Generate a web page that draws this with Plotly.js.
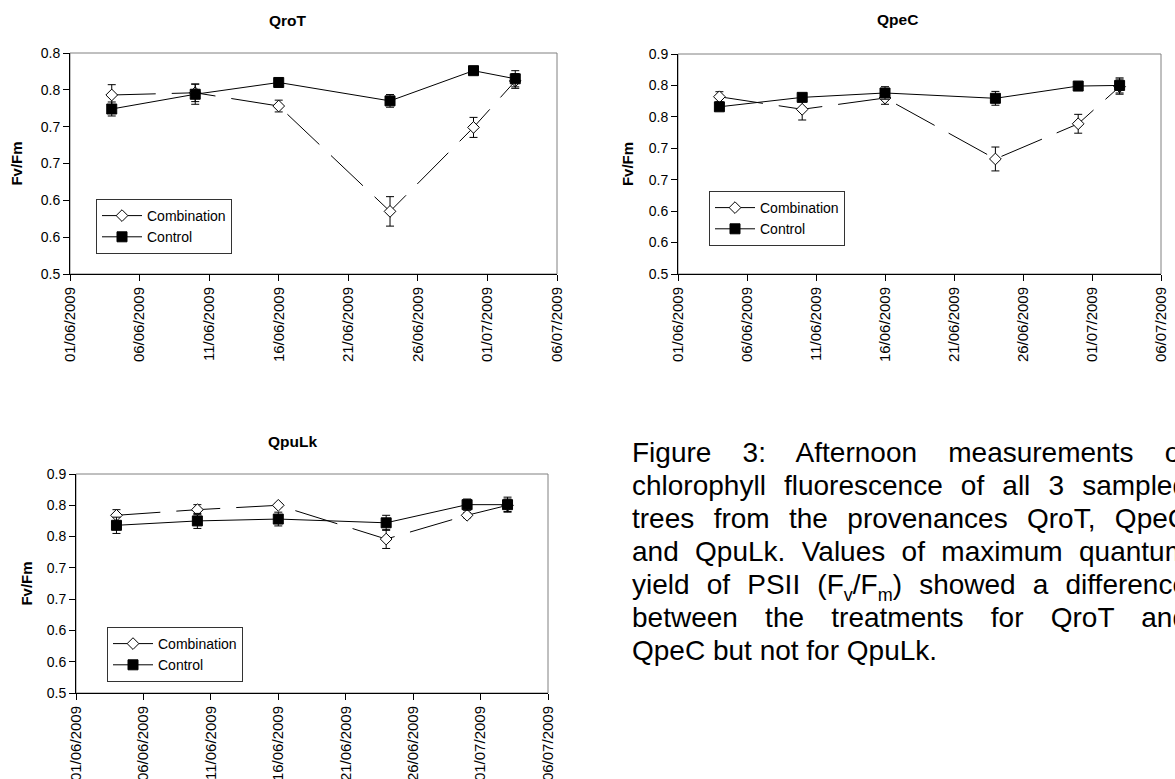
<!DOCTYPE html>
<html>
<head>
<meta charset="utf-8">
<script src="https://cdn.plot.ly/plotly-3.0.1.min.js"></script>
<style>
  html, body { margin: 0; padding: 0; width: 1175px; height: 779px; overflow: hidden; background: #fff; }
  #chart { position: absolute; left: 0; top: 0; width: 1175px; height: 779px; }
  #caption { position: absolute; left: 632px; top: 436px; width: 556px;
    font-family: "Liberation Sans", Arial, sans-serif; font-size: 28px; line-height: 33px; color: #000; }
  #caption span { display: block; white-space: nowrap; text-align: justify; text-align-last: justify; }
  #caption span.last { text-align-last: left; }
  #caption sub { font-size: 18px; line-height: 0; }
</style>
</head>
<body>
<div id="chart"></div>
<div id="caption">
  <span>Figure 3: Afternoon measurements of</span>
  <span>chlorophyll fluorescence of all 3 sampled</span>
  <span>trees from the provenances QroT, QpeC</span>
  <span>and QpuLk. Values of maximum quantum</span>
  <span>yield of PSII (F<sub>v</sub>/F<sub>m</sub>) showed a difference</span>
  <span>between the treatments for QroT and</span>
  <span class="last">QpeC but not for QpuLk.</span>
</div>
<script>
// ---- data ----
const dates = ['2009-06-04', '2009-06-10', '2009-06-16', '2009-06-24', '2009-06-30', '2009-07-03'];
const tickDates = ['2009-06-01', '2009-06-06', '2009-06-11', '2009-06-16', '2009-06-21', '2009-06-26', '2009-07-01', '2009-07-06'];
const tickDateLabels = ['01/06/2009', '06/06/2009', '11/06/2009', '16/06/2009', '21/06/2009', '26/06/2009', '01/07/2009', '06/07/2009'];

const yTicks7 = [0.5, 0.55, 0.6, 0.65, 0.7, 0.75, 0.8];
const yLabels7 = ['0.5', '0.6', '0.6', '0.7', '0.7', '0.8', '0.8'];
const yTicks8 = [0.5, 0.55, 0.6, 0.65, 0.7, 0.75, 0.8, 0.85];
const yLabels8 = ['0.5', '0.6', '0.6', '0.7', '0.7', '0.8', '0.8', '0.9'];

const seriesNames = ['Combination', 'Control'];
const panelTitles = ['QroT', 'QpeC', 'QpuLk'];

const qroT_comb = [0.743, 0.746, 0.728, 0.585, 0.699, 0.762];
const qroT_comb_err = [0.014, 0.012, 0.008, 0.020, 0.0136, 0.010];
const qroT_ctrl = [0.724, 0.744, 0.760, 0.735, 0.776, 0.765];
const qroT_ctrl_err = [0.0095, 0.0136, 0.003, 0.0086, 0.003, 0.011];

const qpeC_comb = [0.782, 0.762, 0.780, 0.683, 0.739, 0.798];
const qpeC_comb_err = [0.008, 0.017, 0.010, 0.019, 0.015, 0.012];
const qpeC_ctrl = [0.766, 0.781, 0.788, 0.7795, 0.799, 0.800];
const qpeC_ctrl_err = [0.004, 0.004, 0.010, 0.011, 0.005, 0.012];

const qpuLk_comb = [0.784, 0.793, 0.800, 0.746, 0.784, 0.800];
const qpuLk_comb_err = [0.009, 0.008, 0.003, 0.015, 0.004, 0.010];
const qpuLk_ctrl = [0.768, 0.775, 0.778, 0.772, 0.801, 0.801];
const qpuLk_ctrl_err = [0.013, 0.012, 0.011, 0.012, 0.009, 0.012];

// ---- layout helpers ----
const W = 1175, H = 779;
const FONT = '"Liberation Sans", Arial, sans-serif';
const px = v => v / W;
const py = v => 1 - v / H;

const panels = [
  { xa: 'x',  ya: 'y',  legend: 'legend',  comb: qroT_comb, combErr: qroT_comb_err, ctrl: qroT_ctrl, ctrlErr: qroT_ctrl_err,
    box: [70, 557, 53, 274], yr: [0.5, 0.8], yt: yTicks7, yl: yLabels7, standoff: 14,
    title: [288, 21], leg: [96, 199] },
  { xa: 'x2', ya: 'y2', legend: 'legend2', comb: qpeC_comb, combErr: qpeC_comb_err, ctrl: qpeC_ctrl, ctrlErr: qpeC_ctrl_err,
    box: [678, 1161, 54, 274], yr: [0.5, 0.85], yt: yTicks8, yl: yLabels8, standoff: 11,
    title: [897, 20], leg: [709, 191] },
  { xa: 'x3', ya: 'y3', legend: 'legend3', comb: qpuLk_comb, combErr: qpuLk_comb_err, ctrl: qpuLk_ctrl, ctrlErr: qpuLk_ctrl_err,
    box: [76, 548, 474, 693], yr: [0.5, 0.85], yt: yTicks8, yl: yLabels8, standoff: 10,
    title: [292, 441], leg: [107, 627] }
];

const combMarker = { symbol: 'diamond', size: 9, color: '#fff', line: { color: '#000', width: 1 } };
const ctrlMarker = { symbol: 'square', size: 10, color: '#000', line: { color: '#000', width: 1 } };

const traces = [];
const layout = {
  width: W, height: H,
  margin: { l: 0, r: 0, t: 0, b: 0 },
  paper_bgcolor: '#fff', plot_bgcolor: '#fff',
  font: { family: FONT, size: 14, color: '#000' },
  showlegend: true,
  annotations: [], shapes: []
};

panels.forEach((p, i) => {
  const sfx = i === 0 ? '' : String(i + 1);
  traces.push({
    type: 'scatter', mode: 'lines+markers', name: seriesNames[0],
    x: dates, y: p.comb, xaxis: p.xa, yaxis: p.ya, showlegend: false,
    line: { color: '#000', width: 1, dash: '44px,16px' },
    marker: combMarker,
    error_y: { type: 'data', array: p.combErr, visible: true, color: '#000', thickness: 1, width: 4 }
  });
  traces.push({
    type: 'scatter', mode: 'lines+markers', name: seriesNames[1],
    x: dates, y: p.ctrl, xaxis: p.xa, yaxis: p.ya, showlegend: false,
    line: { color: '#000', width: 1 },
    marker: ctrlMarker,
    error_y: { type: 'data', array: p.ctrlErr, visible: true, color: '#000', thickness: 1, width: 4 }
  });
  // legend entries (solid sample lines like the original)
  traces.push({
    type: 'scatter', mode: 'lines+markers', name: seriesNames[0], legend: p.legend,
    x: [null], y: [null], xaxis: p.xa, yaxis: p.ya, showlegend: true,
    line: { color: '#000', width: 1 }, marker: combMarker
  });
  traces.push({
    type: 'scatter', mode: 'lines+markers', name: seriesNames[1], legend: p.legend,
    x: [null], y: [null], xaxis: p.xa, yaxis: p.ya, showlegend: true,
    line: { color: '#000', width: 1 }, marker: ctrlMarker
  });

  layout['xaxis' + sfx] = {
    domain: [px(p.box[0]), px(p.box[1])], anchor: p.ya,
    type: 'date', range: [tickDates[0], tickDates[tickDates.length - 1]],
    tickmode: 'array', tickvals: tickDates, ticktext: tickDateLabels, tickangle: -90,
    ticks: 'outside', ticklen: 6, tickcolor: '#000', tickwidth: 1,
    showline: true, linecolor: '#000', linewidth: 1,
    showgrid: false, zeroline: false, fixedrange: true,
    tickfont: { family: FONT, size: 15, color: '#000' }
  };
  layout['yaxis' + sfx] = {
    domain: [py(p.box[3]), py(p.box[2])], anchor: p.xa,
    range: p.yr, tickmode: 'array', tickvals: p.yt, ticktext: p.yl,
    ticks: 'outside', ticklen: 6, tickcolor: '#000', tickwidth: 1,
    showline: true, linecolor: '#000', linewidth: 1,
    showgrid: false, zeroline: false, fixedrange: true,
    tickfont: { family: FONT, size: 14, color: '#000' },
    title: { text: 'Fv/Fm', standoff: p.standoff, font: { family: FONT, size: 15, color: '#000', weight: 'bold' } }
  };
  layout[p.legend] = {
    x: px(p.leg[0]), y: py(p.leg[1]), xanchor: 'left', yanchor: 'top',
    xref: 'paper', yref: 'paper',
    bgcolor: '#fff', bordercolor: '#333', borderwidth: 1,
    font: { family: FONT, size: 14, color: '#000' },
    itemwidth: 40, tracegroupgap: 0, traceorder: 'normal'
  };
  layout.annotations.push({
    xref: 'paper', yref: 'paper', x: px(p.title[0]), y: py(p.title[1]),
    xanchor: 'center', yanchor: 'middle', showarrow: false,
    text: panelTitles[i], font: { family: FONT, size: 15.5, color: '#000', weight: 'bold' }
  });
  layout.shapes.push({
    type: 'rect', xref: p.xa + ' domain', yref: p.ya + ' domain', x0: 0, x1: 1, y0: 0, y1: 1,
    line: { color: '#808080', width: 1 }, layer: 'below'
  });
});

Plotly.newPlot('chart', traces, layout, { staticPlot: true, displayModeBar: false });
</script>
</body>
</html>
